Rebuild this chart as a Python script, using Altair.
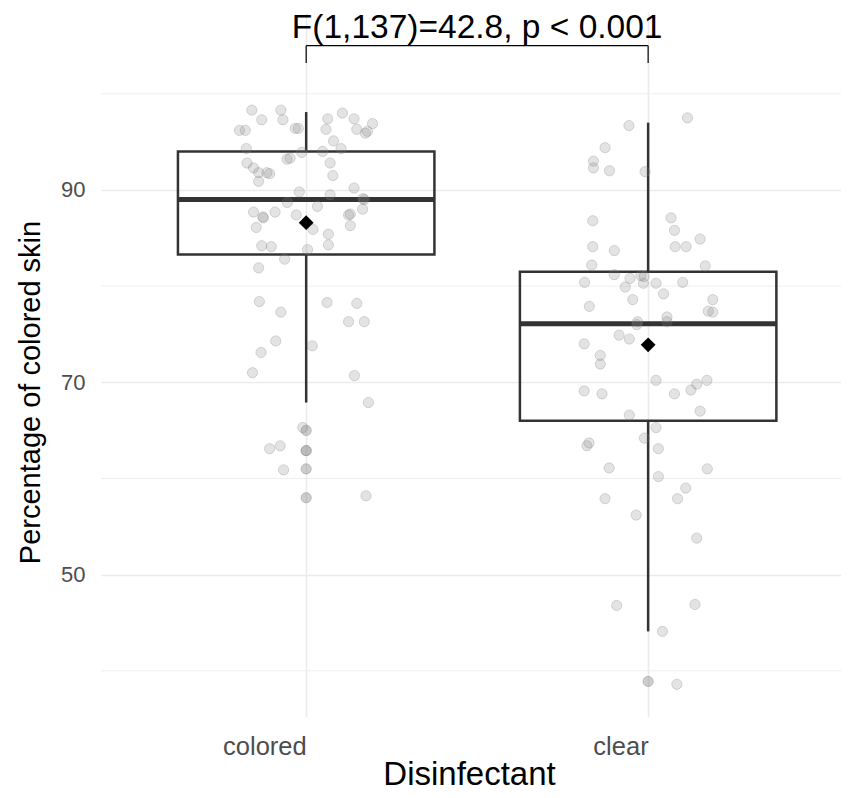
import json
import altair as alt
import pandas as pd

categories = ["colored", "clear"]

colored_values = [98.3, 97.3, 98.3, 97.3, 96.2, 96.2, 96.4, 96.4,
                  94.3, 93.9, 92.8, 92.3, 91.8, 91.8, 91.7, 90.9, 93.2, 93.3,
                  98.0, 97.4, 97.4, 96.9, 96.3, 96.3, 96.1, 95.9, 95.1, 94.3, 94.0, 92.8, 91.5, 90.2,
                  89.8, 89.5, 89.1, 89.0, 88.7, 88.3, 87.7, 87.7, 87.2, 87.1, 87.4, 87.5, 87.4, 88.0,
                  86.1, 85.9, 86.3, 85.4, 84.3, 84.2, 84.1, 83.8, 82.8, 81.9,
                  78.4, 77.3, 78.3, 78.2, 76.3, 76.3, 74.3, 73.8, 73.1, 71.0, 70.7,
                  67.9, 65.3, 63.1, 63.4, 62.9, 60.9, 58.2]
colored_jitter = [-0.159, -0.130, -0.074, -0.068, -0.195, -0.178, -0.032, -0.023,
                  -0.175, -0.013, -0.173, -0.154, -0.139, -0.115, -0.107, -0.139, -0.056, -0.047,
                  0.106, 0.063, 0.140, 0.194, 0.058, 0.148, 0.179, 0.173, 0.080, 0.102, 0.048, 0.070, 0.078, 0.140,
                  -0.020, 0.070, 0.166, 0.170, -0.055, 0.033, -0.154, -0.091, -0.127, -0.125, -0.029, 0.129, 0.124, 0.165,
                  -0.146, 0.020, 0.129, 0.065, 0.065, -0.130, -0.102, 0.004, -0.063, -0.139,
                  -0.137, -0.074, 0.061, 0.148, 0.124, 0.170, -0.089, 0.018, -0.132, -0.157, 0.141,
                  0.182, -0.010, -0.107, -0.076, 0.000, -0.066, 0.175]

clear_values = [97.5, 96.7, 94.4, 93.0, 92.3, 92.0, 91.9,
                86.8, 87.1, 85.8, 84.9, 84.1, 84.1, 84.1, 83.7, 82.2, 82.1, 81.2,
                80.4, 80.8, 81.1, 81.0, 80.3, 80.3, 80.4, 79.9, 79.2, 78.6, 78.6,
                77.9, 77.4, 77.3, 76.8, 76.3, 76.3, 76.0, 74.9, 74.5, 74.0, 72.8, 71.9,
                70.2, 70.2, 69.8, 69.2, 69.1, 68.8, 68.8,
                66.6, 67.0, 65.3, 64.2, 63.7, 63.4, 63.1, 61.1, 61.0, 60.2, 59.0, 57.9, 57.9,
                56.2, 53.8, 46.8, 46.9, 44.1, 38.6]
clear_jitter = [0.115, -0.056, -0.126, -0.160, -0.160, -0.113, -0.009,
                -0.162, 0.067, 0.077, 0.152, 0.079, 0.111, -0.162, -0.099, -0.165, 0.167, -0.099,
                -0.186, -0.053, -0.021, -0.012, -0.014, 0.023, 0.101, -0.067, 0.045, -0.045, 0.189,
                -0.172, 0.176, 0.189, 0.055, 0.055, -0.031, -0.033, -0.085, -0.055, -0.187, -0.140, -0.140,
                0.023, 0.172, 0.142, 0.125, -0.187, -0.135, 0.077,
                -0.055, 0.152, 0.023, -0.011, -0.173, -0.179, 0.030, -0.114, 0.173, 0.030, 0.110, -0.126, 0.086,
                -0.035, 0.142, -0.092, 0.137, 0.042, 0.084]

colored_outliers = [65.0, 62.9, 61.0, 58.0]
clear_outliers = [38.9]

box_q1 = [83.3, 66.0]
box_median = [89.0, 76.1]
box_q3 = [94.0, 81.5]
whisker_low = [67.9, 44.1]
whisker_high = [98.1, 97.0]
group_means = [86.6, 73.9]

y_major = [50, 70, 90]
y_minor = [40, 60, 80, 100]

annotation_text = "F(1,137)=42.8, p < 0.001"
bracket_top = 105.0
bracket_tick_end = 103.2

BOX_HALF = 0.375
FONT = "Liberation Sans"

# ---------- tables ----------
positions = [1, 2]
points_df = pd.DataFrame({
    "pos": [positions[0] + j for j in colored_jitter] + [positions[1] + j for j in clear_jitter],
    "value": colored_values + clear_values,
})
outliers_df = pd.DataFrame({
    "pos": [positions[0]] * len(colored_outliers) + [positions[1]] * len(clear_outliers),
    "value": colored_outliers + clear_outliers,
})
box_df = pd.DataFrame({
    "pos": positions, "q1": box_q1, "median": box_median, "q3": box_q3,
    "lo": whisker_low, "hi": whisker_high, "mean": group_means,
})
bracket_h = pd.DataFrame({"x": [positions[0]], "x2": [positions[1]], "y": [bracket_top]})
bracket_v = pd.DataFrame({"x": positions, "y": [bracket_tick_end] * 2, "y2": [bracket_top] * 2})
label_df = pd.DataFrame({"x": [(positions[0] + positions[1]) / 2], "y": [bracket_top], "text": [annotation_text]})
minor_df = pd.DataFrame({"value": y_minor})

xscale = alt.Scale(domain=[0.4, 2.564], nice=False, zero=False)
yscale = alt.Scale(domain=[35.2, 108.4], nice=False, zero=False)

x_axis = alt.Axis(
    values=positions,
    labelExpr=f"{json.dumps(categories)}[datum.value - 1]",
    title="Disinfectant",
    labelAlign="right", labelPadding=17, labelFontSize=25.5,
    titleFontSize=33,
    titleX=368, titleY=67, titleBaseline="alphabetic",
    grid=True, gridColor="#EBEBEB", gridWidth=1.6,
)
y_axis = alt.Axis(
    values=y_major,
    title="Percentage of colored skin",
    labelPadding=16, labelFontSize=22,
    titleFontSize=29,
    titleX=-62, titleY=379, titleBaseline="alphabetic",
    grid=True, gridColor="#EBEBEB", gridWidth=1.6,
)

minor = alt.Chart(minor_df).mark_rule(color="#EBEBEB", strokeWidth=0.8).encode(
    y=alt.Y("value:Q", scale=yscale, axis=y_axis)
)

box_base = alt.Chart(box_df).transform_calculate(
    left=f"datum.pos - {BOX_HALF}", right=f"datum.pos + {BOX_HALF}"
)
box = box_base.mark_rect(fillOpacity=0, stroke="#333333", strokeWidth=2.5).encode(
    x=alt.X("left:Q", scale=xscale, axis=x_axis), x2="right:Q",
    y=alt.Y("q1:Q", scale=yscale, axis=y_axis), y2="q3:Q",
)
median = box_base.mark_rule(color="#333333", strokeWidth=5).encode(
    x=alt.X("left:Q", scale=xscale, axis=x_axis), x2="right:Q",
    y=alt.Y("median:Q", scale=yscale, axis=y_axis),
)
whisk_low = box_base.mark_rule(color="#333333", strokeWidth=2.5).encode(
    x=alt.X("pos:Q", scale=xscale, axis=x_axis),
    y=alt.Y("lo:Q", scale=yscale, axis=y_axis), y2="q1:Q",
)
whisk_high = box_base.mark_rule(color="#333333", strokeWidth=2.5).encode(
    x=alt.X("pos:Q", scale=xscale, axis=x_axis),
    y=alt.Y("q3:Q", scale=yscale, axis=y_axis), y2="hi:Q",
)

pts = alt.Chart(points_df).mark_point(
    shape="circle", filled=True, size=105, fill="#7F7F7F", fillOpacity=0.22,
    stroke="#7F7F7F", strokeOpacity=0.28, strokeWidth=1,
).encode(
    x=alt.X("pos:Q", scale=xscale, axis=x_axis),
    y=alt.Y("value:Q", scale=yscale, axis=y_axis),
)
outl = alt.Chart(outliers_df).mark_point(
    shape="circle", filled=True, size=105, fill="#7F7F7F", fillOpacity=0.38,
    stroke="#7F7F7F", strokeOpacity=0.4, strokeWidth=1,
).encode(
    x=alt.X("pos:Q", scale=xscale, axis=x_axis),
    y=alt.Y("value:Q", scale=yscale, axis=y_axis),
)
means = alt.Chart(box_df).mark_point(shape="diamond", filled=True, color="black", size=220, opacity=1).encode(
    x=alt.X("pos:Q", scale=xscale, axis=x_axis),
    y=alt.Y("mean:Q", scale=yscale, axis=y_axis),
)

br_h = alt.Chart(bracket_h).mark_rule(color="black", strokeWidth=1.2).encode(
    x=alt.X("x:Q", scale=xscale, axis=x_axis), x2="x2:Q",
    y=alt.Y("y:Q", scale=yscale, axis=y_axis),
)
br_v = alt.Chart(bracket_v).mark_rule(color="black", strokeWidth=1.2).encode(
    x=alt.X("x:Q", scale=xscale, axis=x_axis),
    y=alt.Y("y:Q", scale=yscale, axis=y_axis), y2="y2:Q",
)
txt = alt.Chart(label_df).mark_text(
    font=FONT, fontSize=33.5, color="black", baseline="alphabetic", dy=-8,
).encode(
    x=alt.X("x:Q", scale=xscale, axis=x_axis),
    y=alt.Y("y:Q", scale=yscale, axis=y_axis),
    text="text:N",
)

chart = alt.layer(
    minor, box, whisk_low, whisk_high, median, pts, outl, means, br_h, br_v, txt
).properties(
    width=740, height=704,
    autosize=alt.AutoSizeParams(type="none"),
    padding={"left": 93, "top": 5, "right": 0, "bottom": 73},
).configure_view(stroke=None).configure_axis(
    domain=False, ticks=False,
    labelFont=FONT, labelColor="#4D4D4D",
    titleFont=FONT, titleColor="black", titleFontWeight="normal",
)

chart.save("out.html", embed_options={"renderer": "svg", "actions": False})
